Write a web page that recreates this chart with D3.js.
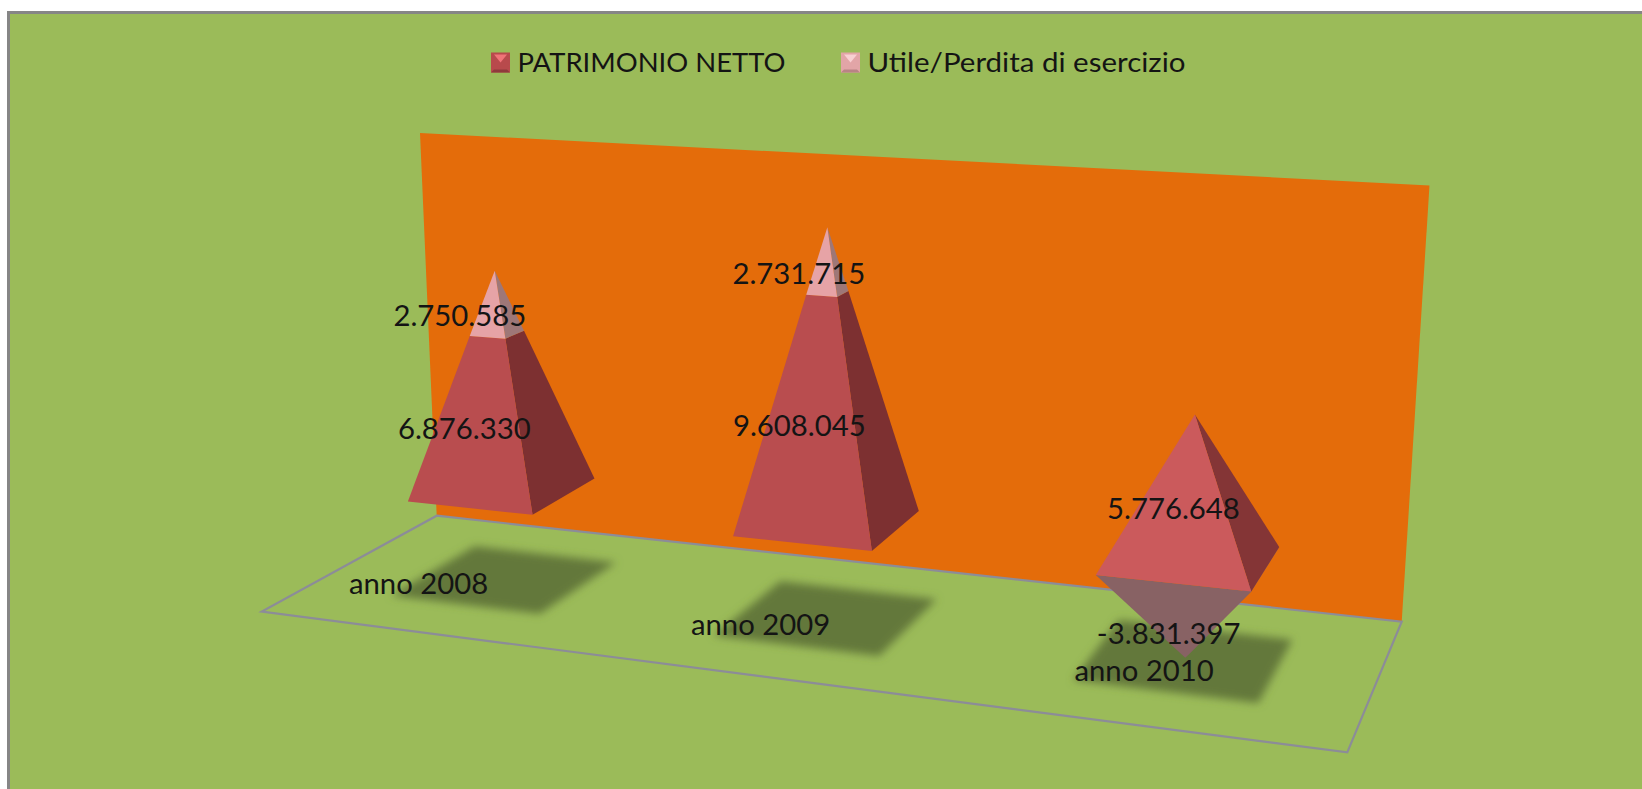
<!DOCTYPE html>
<html><head><meta charset="utf-8">
<script src="https://cdn.jsdelivr.net/npm/d3@7"></script>
<style>html,body{margin:0;background:#fff;overflow:hidden}text{font-family:Lato,"Open Sans",sans-serif;fill:#141414}</style>
</head><body><svg id="c" width="1642" height="789"></svg>
<script>
const categories = ["anno 2008", "anno 2009", "anno 2010"];
const seriesNames = ["PATRIMONIO NETTO", "Utile/Perdita di esercizio"];
const patrimonioNetto = [6876330, 9608045, 5776648];
const utilePerdita = [2750585, 2731715, -3831397];
const valueDomain = [-3900000, 14300000];

// ----- layout -----
const floor = {bl:[436.7,515.7], br:[1401.7,621.7], fr:[1347.3,752.3], fl:[261.8,611.6]};
const wallTopCorners = [[420,133],[1429.5,185.5]];
const vanish = [832, 9572];
const halfW = 0.066, halfD = 0.2, shadowW = 0.079, shadowD = 0.25, uShift = 0.0025;
const tickValue = -1900000, labelDx = -2;
const col = {wall:"#E46C0A", bg:"#9BBB59", frame:"#868686", line:"#8C8C98", shadow:"#64783A",
  s1:["#B94D4F","#7D3031"], s2:["#E6A3A6","#9E7777"], pos3:["#CB5A5C","#843536"], neg3:["#886264","#886264"]};

const fmt = d3.formatLocale({decimal:",",thousands:".",grouping:[3],currency:["","€"],minus:"-"}).format(",d");
const uScale = d3.scaleBand(categories,[uShift,1+uShift]);
const lift = d3.scaleLinear(valueDomain,[0,380.4]);

// floor homography (unit square to screen)
const H = (()=>{const [x0,y0]=floor.bl,[x1,y1]=floor.br,[x2,y2]=floor.fr,[x3,y3]=floor.fl;
  const dx1=x1-x2,dx2=x3-x2,sx=x0-x1+x2-x3,dy1=y1-y2,dy2=y3-y2,sy=y0-y1+y2-y3,det=dx1*dy2-dx2*dy1;
  const g=(sx*dy2-dx2*sy)/det,h=(dx1*sy-sx*dy1)/det;
  return {a:x1-x0+g*x1,b:x3-x0+h*x3,c:x0,d:y1-y0+g*y1,e:y3-y0+h*y3,f:y0,g,h};})();
function project(u,v,val){
  const w=1+H.g*u+H.h*v, x=(H.a*u+H.b*v+H.c)/w, y=(H.d*u+H.e*v+H.f)/w;
  if(val===undefined) return [x,y];
  const l=lift(val)/w, dx=x-vanish[0], dy=y-vanish[1], n=Math.hypot(dx,dy);
  return [x+dx/n*l,y+dy/n*l];
}
const path=d3.line();
const svg=d3.select("#c");

// frame + plot background
svg.append("rect").attr("x",8.5).attr("y",12.5).attr("width",1700).attr("height",900)
  .attr("fill",col.bg).attr("stroke",col.frame).attr("stroke-width",3);

// wall
svg.append("path").attr("fill",col.wall)
  .attr("d",path([floor.bl,wallTopCorners[0],wallTopCorners[1],floor.br])+"Z");
// floor outline
svg.append("path").attr("fill","none").attr("stroke",col.line).attr("stroke-width",2.2)
  .attr("d",path([floor.bl,floor.br,floor.fr,floor.fl])+"Z");

// shadows
const defs=svg.append("defs");
defs.append("filter").attr("id","blur").attr("x","-20%").attr("y","-20%").attr("width","140%").attr("height","140%")
  .append("feGaussianBlur").attr("stdDeviation",4);
svg.append("g").selectAll("path").data(categories).join("path")
  .attr("fill",col.shadow).attr("filter","url(#blur)")
  .attr("d",c=>{const u=uScale(c)+uScale.bandwidth()/2,v=.5;
    return path([[-1,-1],[1,-1],[1,1],[-1,1]].map(([a,b])=>project(u+a*shadowW,v+b*shadowD)))+"Z";});

// stacked pyramid segments
const segments=[];
categories.forEach((c,i)=>{
  const a=patrimonioNetto[i], b=utilePerdita[i], u=uScale(c)+uScale.bandwidth()/2;
  if(b>=0){
    const apex=a+b;
    segments.push({u,lo:0,hi:a,apex,value:a,colors:col.s1});
    segments.push({u,lo:a,hi:apex,apex,value:b,colors:col.s2});
  }else{
    segments.push({u,lo:0,hi:b,apex:b,value:b,colors:col.neg3});
    segments.push({u,lo:0,hi:a,apex:a,value:a,colors:col.pos3});
  }
});
function corner(s,su,sv,t){const k=1-t/s.apex;
  return project(s.u+su*halfW*k,.5+sv*halfD*k,t);}
const faces=segments.flatMap(s=>[
  {s,side:1,pts:[corner(s,1,1,s.lo),corner(s,1,-1,s.lo),corner(s,1,-1,s.hi),corner(s,1,1,s.hi)]},
  {s,side:0,pts:[corner(s,-1,1,s.lo),corner(s,1,1,s.lo),corner(s,1,1,s.hi),corner(s,-1,1,s.hi)]}
]);
svg.append("g").selectAll("path").data(faces).join("path")
  .attr("fill",d=>d.s.colors[d.side]).attr("d",d=>path(d.pts)+"Z");

// value labels, anchored on the front face
svg.append("g").attr("font-size",29.3).attr("text-anchor","middle").selectAll("text").data(segments).join("text")
  .attr("dy","0.38em")
  .attr("x",d=>project(d.u,.5+halfD,(d.lo+d.hi)/2)[0]+labelDx)
  .attr("y",d=>project(d.u,.5+halfD,(d.lo+d.hi)/2)[1])
  .text(d=>fmt(d.value));

// category labels
svg.append("g").attr("font-size",29.3).attr("text-anchor","middle").selectAll("text").data(categories).join("text")
  .attr("dy","0.35em")
  .attr("x",c=>project(uScale(c)+uScale.bandwidth()/2,1,tickValue)[0])
  .attr("y",c=>project(uScale(c)+uScale.bandwidth()/2,1,tickValue)[1])
  .text(c=>c);

// legend
const legendX=[491,841], legendTextLength=[268,318], legendFill=[["#B84A4C","#8F3A3C","#F07478"],["#E2A5A7","#B98385","#F8D0D2"]];
const lg=svg.append("g").selectAll("g").data(seriesNames).join("g")
  .attr("transform",(d,i)=>`translate(${legendX[i]},52.5)`);
lg.append("rect").attr("width",19).attr("height",20).attr("fill",(d,i)=>legendFill[i][0]);
lg.append("path").attr("d","M0,20L3,17H16L19,20Z").attr("fill",(d,i)=>legendFill[i][1]);
lg.append("path").attr("d","M3,2H16L9.5,10Z").attr("fill",(d,i)=>legendFill[i][2]);
lg.append("text").attr("x",26.5).attr("y",10).attr("dy","0.36em").attr("font-size",27.5)
  .attr("textLength",(d,i)=>legendTextLength[i]).attr("lengthAdjust","spacingAndGlyphs").text(d=>d);
</script></body></html>
